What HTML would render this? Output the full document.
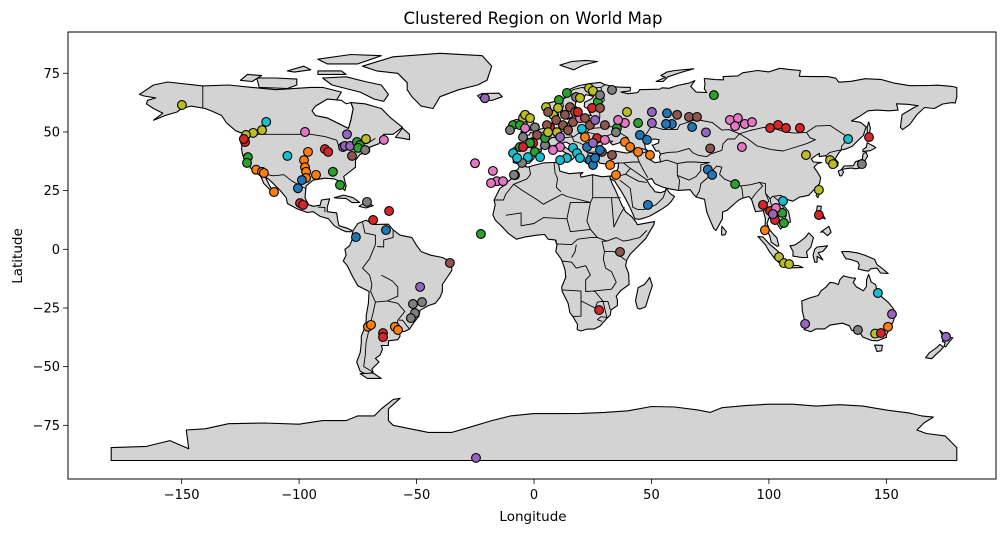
<!DOCTYPE html>
<html><head><meta charset="utf-8"><style>
html,body{margin:0;padding:0;background:#fff;}
svg{display:block;font-family:"DejaVu Sans","Liberation Sans",sans-serif;}
</style></head><body>
<svg id="chart" width="1008" height="534" viewBox="0 0 1008 534">
<text x="533" y="24" text-anchor="middle" font-size="16.5">Clustered Region on World Map</text>
<g id="land"></g>
<g id="borders"></g>
<g id="pts"></g>
<rect x="68" y="32" width="928" height="447" fill="none" stroke="#000" stroke-width="1"/>
<g id="axes"></g>
<text x="533" y="521" text-anchor="middle" font-size="13.5">Longitude</text>
<text x="22" y="256" text-anchor="middle" font-size="13.5" transform="rotate(-90 22 256)">Latitude</text>
</svg>
<script>
const xTicks=[-150,-100,-50,0,50,100,150];
const yTicks=[75,50,25,0,-25,-50,-75];
const colors=["#1f77b4","#ff7f0e","#2ca02c","#d62728","#9467bd","#8c564b","#e377c2","#7f7f7f","#bcbd22","#17becf"];
const lons=[-149.9,-114,-119.6,-115.8,-122.6,-123,-123.5,-97.5,-79.6,-81.3,-80.5,-78.3,-75.4,-74.1,-74.9,-71.5,-63.9,-71.9,-77.5,-89,-87.6,-105,-96.2,-97.9,-97.5,-97,-97,-92.8,-98.8,-100.5,-85.6,-82.6,-118.3,-115.8,-115,-121.8,-122.2,-110.7,-99.6,-98.3,-71.1,-61.7,-68.5,-75.8,-63,-35.8,-48.5,-51.5,-50.7,-52.4,-47.7,-70.7,-69.4,-64.3,-64.3,-59.2,-57.9,
-20.9,-25.1,-17.5,-15.8,-13.2,-18.3,-22.6,-8.1,36.6,27.7,48.5,-24.7,
76.6,75,73.2,74,75.8,85.6,97.5,100.5,102.6,98.3,106,105.6,106.4,103,101.7,121.3,121.3,115.8,126,127.3,139.6,133.7,142.6,104.3,106.4,108.6,175.4,146.4,152.4,150.7,145.2,147.7,137.9,115.4,88.5,100.5,103.9,107.3,113.2,
23.4,25.1,33.2,14,10.6,17.9,19.6,27.2,10.2,5.1,8.1,24.7,15.3,28.1,-4.7,-3.8,-8.9,-6,0.4,-3.8,6.8,12.3,16.6,19.6,9.8,-4.7,1.3,20.4,21.7,26.8,30.2,35.3,34.9,38.7,44.3,39.6,50.2,50.2,-0.4,-6,4.7,11.1,8.1,16.6,22.6,25.1,28.9,33.2,-8.9,-2.6,0.4,-5.1,-7.2,14,23.8,25.1,18.3,38.7,40.9,44.3,49.4,45.1,48.1,32.4,34.9,-8.5,
6,9.4,13.2,17.5,21.7,23.8,14.5,5.5,11.1,26,30.2,35.8,4.7,-1.7,-10.2,28.1,18.7,-4.7,2.6,11.1,19.6,28.1,26,6,-1.7,
56.6,58.7,56.2,60.9,66,67.3,83.4,86.8,89.8,92.8,85.6,69.4];
const lats=[61.5,54.3,49.6,50.8,48.7,45.7,47,50,49,43.6,44,44,45.7,44.4,43.2,47,46.6,42.3,39.8,42.7,41.5,39.8,41.5,38,35,33,30.4,31.7,29.5,26,33,27.4,33.9,33,32.5,39.3,36.8,24.4,19.7,18.9,20.2,16.3,12.5,5.2,8.2,-5.8,-16,-23.3,-27.2,-29.3,-22.5,-33,-32.2,-35.7,-37.4,-33,-34.4,
64.4,36.7,33.4,29,29,28.2,6.5,31.6,-1.1,-25.9,18.9,-88.9,
65.7,43,49.8,34,31.7,27.8,18.9,16.3,12.5,8.2,20.6,15.5,11.2,17.6,15,14.6,25.3,40.2,38,36.3,36.3,47,47.8,-3.3,-5.9,-6.3,-37.3,-18.6,-27.6,-33,-35.9,-35.7,-34.4,-31.8,43.6,51.7,53,51.7,51.7,
68.7,67.5,67.9,66.6,63.6,64.9,64.5,62.8,60.2,60.6,57.3,60.2,60.6,60.2,55.9,57.3,52.9,52.9,52,51.6,52,52.9,54.2,55.9,49.9,47.8,48.7,51.3,47.8,47.4,52.9,51.7,49.9,53.8,53.8,58.5,58.5,53.8,45.3,43.6,44.4,43.6,42.3,43.2,43.6,45.3,41.5,40.2,41,39.3,41.5,36.8,38.9,38.9,38,35.9,41,45.7,43.6,41.5,40.2,48.7,46.6,35.9,31.7,31.7,
58.5,55.1,57.3,58.5,55.9,52.9,50.8,52.9,47.8,55.1,46.6,55.1,47.4,45.3,50.8,65.7,58.5,43.6,39.3,38,38.9,42.3,38.9,49.9,55.9,
58,53.4,53.4,57.3,56.4,52.1,55.1,55.9,53.4,54.2,52.5,56.4];
const clusters=[8,9,8,8,8,3,3,6,4,4,4,4,2,2,2,8,6,7,5,3,3,9,1,1,1,1,1,1,0,0,2,2,1,1,1,2,2,1,3,3,7,3,3,0,0,5,4,7,7,7,7,1,1,3,3,1,1,
4,6,6,6,6,6,2,7,5,3,0,4,
2,5,4,0,0,2,3,3,3,1,9,2,2,6,4,3,8,8,8,8,7,9,3,8,8,8,4,9,4,1,8,3,7,4,6,3,3,3,3,
8,8,7,2,2,7,8,2,8,8,8,3,5,5,8,8,2,2,7,6,3,5,5,6,8,7,5,9,1,3,5,2,7,6,2,8,4,4,3,2,7,6,6,9,0,4,5,5,9,9,2,7,9,9,0,0,9,1,1,1,1,0,0,1,1,7,
5,5,5,5,5,5,5,5,4,4,6,6,2,2,7,7,3,3,9,9,9,0,0,8,8,
0,0,0,5,5,0,6,6,6,6,6,5];

const X0=534,KX=2.349,Y0=249.3,KY=2.347;
const sx=v=>X0+v*KX, sy=v=>Y0-v*KY;
const NS="http://www.w3.org/2000/svg";
function mk(tag,attrs,parent){const e=document.createElementNS(NS,tag);for(const k in attrs)e.setAttribute(k,attrs[k]);parent.appendChild(e);return e;}

const shapes={
"north-america":[[-168,66],[-162,70],[-156,71.3],[-141,69.6],[-130,70],[-120,69],[-110,68],[-95,69],[-90,69],[-82,67],[-85,62],[-94,59],[-93,57],[-88,56],[-82,53],[-79,51.5],[-78,55],[-77,60],[-78,62.5],[-72,62],[-65,60],[-61,56],[-56,52],[-60,49],[-64,49],[-66,45],[-70,43.5],[-70,41.5],[-74,40.5],[-76,38],[-76,35],[-81,31],[-80,27],[-80.5,25],[-82,26.5],[-83,29],[-85,30],[-89,30.3],[-94,29.5],[-97,27],[-97.5,22],[-96,19],[-94,18.3],[-91,18.8],[-90.5,21],[-87,21.5],[-88,18],[-88,16],[-84,15.5],[-83.5,12],[-83,10],[-79.5,9],[-77.5,8],[-78,7.5],[-80,7.5],[-82,8.3],[-85,10],[-87.5,13],[-91,14],[-94,16],[-96.5,15.7],[-101,17.3],[-105,19.5],[-105.5,22],[-108,25],[-112,29],[-114.5,31],[-112.5,27],[-110,23],[-111,24],[-115,28],[-117,32.5],[-120.5,34.5],[-122.5,37.5],[-124,40],[-124.5,43],[-124,46],[-124.7,48.4],[-123,49],[-127,50.5],[-131,54],[-133,57],[-137,58.8],[-140,60],[-146,61],[-150,60],[-152,58.5],[-157,57],[-162,55],[-158,58],[-162,60],[-165,62],[-164.5,63.5],[-161,64.5],[-166,65.3]],
"greenland":[[-73,78],[-60,82],[-40,83.5],[-22,82.5],[-18,78],[-20,72],[-24,70],[-32,68],[-40,65],[-43,60],[-48,61],[-52,65],[-54,68],[-54,71],[-58,75],[-67,76]],
"baffin":[[-62,66],[-65,70],[-72,71.5],[-80,73.5],[-90,73],[-86,70],[-82,69],[-74,67],[-68,64],[-64,63]],
"victoria-island":[[-118,73],[-117,69],[-105,68.5],[-101,70],[-101,72.5],[-110,73]],
"ellesmere":[[-78,83],[-65,82.5],[-75,79],[-88,79],[-92,81]],
"banks-island":[[-125,72],[-120,71.5],[-116,74],[-122,74.5]],
"devon-island":[[-92,74.5],[-80,74.5],[-82,76],[-92,76]],
"arctic-island":[[-105,76],[-98,78],[-95,76.5],[-102,75.5]],
"cuba":[[-85,22],[-81,23.1],[-77,22],[-74.2,20],[-77.5,19.9],[-80,21.7],[-84,21.8]],
"hispaniola":[[-74.5,18.3],[-72,20],[-68.4,18.6],[-71.5,17.6]],
"newfoundland":[[-59,47.7],[-56,51.6],[-53,49],[-53,46.7],[-56,47.3]],
"iceland":[[-24,65.5],[-22,66.4],[-15,66.5],[-13.5,65],[-18,63.4],[-22.5,63.8]],
"south-america":[[-77,8],[-75,11],[-71.5,12.4],[-68,10.6],[-62,10.7],[-60,8.3],[-57,6],[-52,5],[-50,1.7],[-48,-1],[-44,-2.5],[-39,-3.5],[-35,-5.5],[-35,-9],[-37,-12],[-39,-15],[-39,-18],[-40,-20.5],[-42,-23],[-45,-24],[-48.5,-26],[-49,-28.5],[-51,-31],[-53,-34],[-55,-35],[-57.5,-35],[-57,-37],[-58,-38.5],[-62,-39],[-62,-41],[-65,-41],[-64.5,-42.5],[-65.5,-45],[-67.5,-46.5],[-66,-48],[-69,-51],[-68.5,-52.3],[-71,-53.5],[-74,-52],[-75.5,-48],[-74,-44],[-73.5,-40],[-73.5,-37],[-71.5,-32],[-71.4,-28],[-70.5,-23],[-70.2,-18],[-75,-15.5],[-77,-12],[-79.5,-7],[-81.2,-5],[-80,-2.5],[-80.5,0],[-78.5,1.5],[-77.5,4],[-77.3,7]],
"tierra-del-fuego":[[-68.5,-52.7],[-65,-55],[-71,-55],[-74,-53]],
"africa":[[-17,21],[-16.5,19],[-17.5,14.7],[-16.5,12.5],[-15,11],[-13,9],[-11,6.8],[-7.5,4.3],[-4,5.2],[1,6],[4.5,6.3],[6,4.3],[9,4],[9.8,2],[9.3,-1],[11.5,-4],[12.3,-6],[13.3,-9],[13.5,-12],[11.8,-16],[12,-18],[14.5,-23],[15.3,-27],[16.5,-28.6],[18.5,-32],[18.4,-34.2],[20,-34.8],[22.5,-34],[25.5,-34],[28,-32.8],[30.5,-30],[32.5,-28],[32.8,-25.8],[35.5,-24],[35.5,-21.5],[35,-20],[37,-17.5],[40.5,-15],[40.3,-10.5],[39,-7],[39.5,-4.5],[41,-2],[43.5,0.5],[47.5,4.5],[51,10.5],[51.3,11.8],[44,10.5],[43.3,11.8],[41.5,14],[39,16],[37.3,19],[36,22],[35,24.5],[33.5,27.5],[32.5,30],[32.3,31.2],[29,30.9],[25,31.8],[20,30.7],[19.7,31.8],[20.8,32.7],[15,32.2],[11,33.3],[10.5,36],[11,37],[8,37],[4,36.8],[-1,35.5],[-2.5,35],[-5.9,35.8],[-6.9,34],[-9.5,32.5],[-9.7,30],[-12,28],[-13,27],[-14.5,26]],
"madagascar":[[44,-25],[43.2,-22],[44.3,-16.3],[47,-15],[49.3,-12],[50.4,-15.5],[49.5,-18],[47.5,-24.5],[45,-25.5]],
"eurasia":[[-9,43],[-8.8,37],[-6,36.2],[-2,36.7],[0,38.7],[0.3,40.3],[3.2,41.9],[3,43.3],[6.5,43.1],[9,44.4],[10.2,43.9],[12.3,41.7],[15.7,40],[16,38],[17,39],[18.5,40.2],[16,41.5],[12.4,44.2],[12.3,45.3],[13.6,45.7],[15,45],[17,43],[19.5,42],[19.5,40],[21,38],[22.5,36.5],[23,38],[22.9,40.5],[24,40.8],[26,40.8],[26.3,40],[26.2,39],[27.3,37.5],[28,36.7],[30.5,36.4],[32.5,36.1],[36,36.8],[35.8,34.6],[35,33],[34.3,31.3],[32.3,31.2],[32.5,30],[34.5,29],[35,28],[37,25],[39,21.5],[41,17.5],[43,13],[45,12.8],[49,14],[52,15.7],[55,17.5],[57,18.9],[58.5,20.5],[59.8,22.5],[58,23.7],[56.3,26],[56,24.9],[54,24.1],[51.5,24.5],[50.5,26],[49.5,27],[48,29.5],[50.1,30.2],[51.5,27.9],[54.8,26.5],[57.3,25.8],[61.5,25.1],[66.5,25.4],[67.5,23.9],[69,22.3],[72.6,21.3],[73.5,16],[74.8,12.8],[76.5,8.9],[77.5,8],[80.2,13],[80.3,15.9],[82.2,16.6],[86.9,20.8],[88.5,21.7],[91.5,22.5],[92.6,21.3],[94.3,16],[97.6,16.5],[98.5,13],[98.3,8.4],[100.3,6],[101,3],[103.5,1.3],[104.2,1.5],[103.4,4.9],[102.1,6.2],[100.3,8.3],[99.2,11],[100,13.4],[102.6,12.2],[105,8.6],[106.7,10.4],[109.2,11.7],[108.4,16],[106,19],[107.4,21.3],[110.2,20.5],[113,22.2],[117,23],[119.6,25.8],[121.6,28],[122,30.5],[121,32.4],[119.2,35],[120.6,36.5],[122.5,37],[119,37.2],[118,38.5],[118.8,39.2],[121.5,40.9],[121.4,39.5],[124.2,39.9],[125.3,37.7],[126.7,37],[126.5,34.5],[129.3,35.5],[129.5,37],[128.2,38.5],[129.7,41],[130.8,42.3],[133,42.8],[135.5,43.9],[138.2,46.6],[140.2,48.5],[141.4,52.2],[139,54.1],[135.2,54.7],[138.2,56.4],[142.2,59],[146,59.3],[151,59],[155,59.3],[154.3,62],[159,61.8],[163.5,61.2],[161.8,60.4],[156.7,57.4],[156,52],[156.9,51],[160,53.2],[162.1,56.1],[163.2,57.6],[166.3,60.4],[170.4,60],[174,61.9],[178,62.5],[179.3,62.3],[180,64.9],[180,68.9],[178,69.4],[172,69.9],[168,69.8],[160,69.7],[153,70.9],[148,72.3],[141,72.7],[135,71.6],[129.7,71.2],[128.5,72.9],[125,73.6],[118,73.6],[113,73.7],[113.4,76.2],[108,76.7],[104.7,77.1],[100,75.6],[95,76.2],[88.8,75.2],[86.8,73.9],[80.5,73.6],[80.7,72.2],[77,72.3],[72.5,72.8],[72.8,70.4],[72.5,68.4],[73.5,66.8],[69,67],[66.7,69.4],[68.5,71.9],[66,70.8],[61,69.8],[57.5,68.6],[54.5,68.8],[53.5,68.2],[45,68],[44.2,66.8],[42,66.5],[40,66.3],[37,67],[41,67.5],[41,69],[36,69.1],[33.8,69.3],[30,70.2],[28.2,71.1],[24,70.6],[19.2,69.8],[15.4,68.3],[14,65],[10.5,63.5],[5,62],[5,59],[6,58],[8.5,58.3],[10.4,59.5],[11,58.9],[11.8,57.4],[12.8,55.9],[14.3,55.4],[16.4,56.6],[16.9,58.7],[18.8,60.1],[17.5,61],[17.8,62.7],[21.5,65],[22,65.9],[25.4,65.1],[24.6,64.2],[21.5,62.6],[21.4,60.7],[23,59.8],[26,60.4],[29,60],[26,59.4],[23.4,59.2],[23.5,58.6],[24.4,57],[21.6,57.4],[21,56],[21.2,55.2],[19.6,54.4],[18.7,54.4],[14.1,53.8],[12.5,54.5],[11,54],[10.9,54.9],[9.9,55.6],[10.6,57.7],[8.5,57],[8.1,55.6],[8.9,54],[7,53.4],[5,53],[4,51.5],[1.6,50.9],[0,49.5],[-1.6,49.8],[-1.9,48.7],[-4.6,48.7],[-4.5,47.9],[-2,47],[-1.2,46],[-1.4,44],[-1.9,43.4],[-4.3,43.4],[-8,43.7]],
"great-britain":[[-5.7,50],[-3,50.5],[1.4,51.3],[1.7,52.7],[0,53.5],[-0.3,54.5],[-2,55.8],[-2,57.5],[-3.2,58.6],[-5,58.6],[-6,57.4],[-5.7,56],[-4.8,54.8],[-3,54],[-3,53.4],[-4.7,52.8],[-5.2,51.7],[-3.5,51.4]],
"ireland":[[-6,52],[-6,53.8],[-5.6,55.3],[-8,55.2],[-10,54],[-10,51.8]],
"honshu":[[130.9,34],[133,34.4],[135.2,34.6],[136.8,34.3],[139,34.7],[140.5,35.3],[141,38],[142,39.7],[141.4,41.4],[140,40.5],[139.8,38.3],[136.8,37.3],[136,35.6],[132,35.5]],
"kyushu":[[129.5,33.3],[131,34],[131.8,33],[131,31.3],[130.2,31.3]],
"hokkaido":[[140,41.5],[141.1,41.8],[143.2,42],[145.5,43.3],[144.5,44],[141.8,45.4],[141.5,43.5],[140,42.5]],
"sakhalin":[[142,46],[143.5,46.5],[142.7,49],[143.2,51.6],[142.5,54.3],[141.8,52]],
"sri-lanka":[[79.8,6.8],[80,9.8],[81.9,7.5],[81.3,6.2],[80,6]],
"taiwan":[[120.1,23],[121,25.2],[122,25],[120.8,22]],
"luzon":[[120,14],[120.6,18.5],[122.3,18.3],[122,16],[124,13],[121.5,13.8]],
"mindanao":[[122,7.3],[125.5,9.8],[126.5,7.3],[125,5.8],[123,7.5]],
"borneo":[[109,1.5],[110.3,-1],[110.2,-2.9],[114,-3.5],[116.5,-3.5],[116,-1],[117.8,0.8],[119,5],[117,7],[115.4,5],[113,3.1],[111,1.8]],
"sumatra":[[95.3,5.5],[97.5,5.2],[100.5,2],[104,-1],[106,-3],[105.8,-5.8],[104.5,-5.9],[102.5,-4],[100.2,-1],[98.6,1.8]],
"java":[[105.5,-6.8],[108.6,-6.8],[112.6,-6.9],[114.5,-7.8],[108.5,-7.9],[106.5,-7.4]],
"sulawesi":[[119.5,-5.5],[120.5,-5.5],[120.5,-3],[123,-4.5],[121,-1.5],[123,-0.9],[125,1.5],[120.5,1],[119.5,0],[118.8,-2.5]],
"new-guinea":[[131,-1],[134,-1],[138,-1.6],[141,-2.6],[145,-4.3],[146,-6.5],[148,-8],[150.8,-10.3],[147.5,-10.1],[146,-8],[143.3,-8.3],[142.5,-9.3],[141,-9.1],[138,-8.4],[138.5,-6.7],[137.9,-5.4],[135,-4.4],[132.8,-4],[132,-2.8]],
"australia":[[114,-22],[114.2,-26.3],[115,-29.5],[115.7,-33.2],[115,-34.2],[117.9,-35.1],[120,-33.9],[123.7,-33.9],[126,-32.3],[131.3,-31.5],[134.3,-32.6],[135.2,-34.5],[137.7,-35],[138.1,-34.3],[138.4,-35.1],[140,-37.4],[143.6,-38.8],[146.3,-39],[150,-37.5],[150,-36.4],[151.8,-33],[153.1,-30.4],[153.6,-28],[153,-25.3],[150.8,-22.6],[149.3,-21.3],[146.4,-18.9],[145.4,-15],[143.6,-14],[142.5,-10.7],[141.6,-12.9],[141.5,-15.9],[140.2,-17.7],[137.3,-16],[135.9,-14.2],[136.9,-12.3],[135.3,-12.2],[132.6,-11.6],[131.8,-11.3],[130.2,-13],[129.6,-15],[127.8,-14.3],[126,-14.1],[124.4,-16],[122.2,-17.7],[121,-19.7],[117.4,-20.7],[114.6,-21.8]],
"tasmania":[[145,-40.8],[148.3,-40.9],[148,-43.2],[146,-43.6]],
"new-zealand-north":[[172.7,-34.5],[174.5,-36],[175.9,-37.5],[178.3,-37.7],[177,-39.2],[175.2,-41.6],[174.6,-41.2],[175,-39.9],[173.8,-39.2],[174.6,-38]],
"new-zealand-south":[[172.8,-40.5],[174.3,-41.7],[172.7,-43.4],[171,-44.9],[169.3,-46.6],[166.7,-46.2],[168.3,-44.1],[171.5,-41.8]],
"novaya-zemlya":[[52,71.5],[56,73.3],[54,74],[56.5,75.5],[60,76.2],[68,76.9],[63,75.5],[57,73.5],[55,71.5]],
"svalbard":[[11,78.5],[16,80],[22,80.5],[27,80],[21,78.5],[17,76.5]],
"antarctica":[[-180,-90],[-180,-84.5],[-165,-84],[-155,-81.5],[-147,-85],[-148,-77],[-140,-76.5],[-130,-74.3],[-115,-74],[-100,-74.5],[-90,-73],[-80,-73],[-75,-71],[-68,-71],[-65,-68],[-60,-64],[-57,-63.5],[-62,-68],[-62,-73],[-60,-75],[-45,-78],[-35,-78],[-28,-76],[-18,-73],[-10,-71],[0,-70],[10,-70],[20,-69.9],[30,-69.5],[40,-68.8],[50,-67],[60,-67.2],[70,-68.5],[75,-69.5],[80,-67.5],[90,-66.6],[100,-66],[110,-66],[120,-66.8],[130,-66.2],[140,-66.8],[150,-68.5],[160,-69.8],[165,-71],[170,-71.5],[166,-74],[163,-77],[167,-78.5],[175,-79.5],[180,-84.5],[180,-90]]
};
const water={
"black-sea":[[27.5,42],[28,43.6],[29.7,45.3],[30.7,46.5],[33.3,46],[32.5,45.4],[33.5,44.5],[35.5,45.1],[36.5,45.4],[38.2,47.1],[39.1,47.1],[38,45.9],[37.5,44.7],[39.9,43.4],[41.5,41.5],[39.5,41],[36,41.6],[34.6,41.9],[31,41.1],[29,41.1]],
"caspian-sea":[[47,45.5],[49,46.7],[51.5,47],[53.2,46.7],[53,45.3],[51,44.5],[50.3,44.4],[52,41.8],[53,42],[53.9,40.6],[53.4,39.4],[53.9,37.3],[51.5,36.9],[49,38.4],[49.5,40.2],[48.8,41.6],[47.4,43]],
"hudson-bay":[[-94.5,59],[-93,61],[-88,64],[-82,63.5],[-80,62],[-78,62.5],[-77,60],[-78,55],[-79,51.5],[-82,53],[-88,56],[-93,57]]
};
const borderLines=[
[[-123,49],[-95,49],[-89,48],[-84,46.5],[-82.5,42],[-79,43],[-75,45],[-71,45],[-67.5,47.3]],
[[-141,60],[-141,69.6]],
[[-117,32.5],[-111,31.3],[-106.5,31.8],[-103,29],[-97.2,25.9]],
[[-92,18],[-89,17.8],[-89,15.8]],
[[-73,11.5],[-72,7],[-67.5,6],[-67.5,2],[-70,-4],[-73,-8],[-70,-11],[-69,-15]],
[[-60,8.3],[-60,5],[-64,4],[-64,1],[-66.8,1.2]],
[[-69,-15],[-69.5,-18],[-67.5,-22.5],[-62.5,-22],[-58,-20],[-58,-16],[-60.3,-13.5],[-65,-11]],
[[-67.5,-22.5],[-68.5,-27],[-70,-33],[-71.5,-40],[-71.8,-45],[-72.5,-50],[-68.6,-52.3]],
[[-62.5,-22],[-58,-23],[-55,-26.5],[-58,-30.2],[-58.4,-34]],
[[-53,-34],[-56,-30.2],[-57.5,-30.2]],
[[-8.7,27.7],[-4.8,25],[1.5,21],[4,19.2],[12,23.5],[14,22.5],[24,20],[25,22],[25,31.8]],
[[-8.7,27.7],[-3,30],[-1.5,32],[-2,35]],
[[8.5,37],[9,32.5],[10,30.2],[9.5,26.4],[11.5,24.5]],
[[25,22],[36.9,22]],
[[-17,21],[-13,21],[-12,23.5],[-8.7,27.7]],
[[-12,14.5],[-5.5,15.5],[-5.5,10],[0,11],[4,13.5],[14,13],[15.5,7.5],[24,8.5],[27,5],[31,3.5],[35,5],[38,3.5],[41,4],[42,4.3],[45,5],[48,8]],
[[14,13],[15.5,20],[24,20]],
[[24,8.5],[22.5,12],[24,20]],
[[33,22],[34,9.5],[36.5,14.5],[38.5,18]],
[[9.4,4],[9.5,2.2],[11.3,2.2],[16,2],[18.6,4.3],[24,5],[27,5]],
[[12,-5],[16,-5.5],[18,-8],[22,-7],[24,-11],[22,-13],[22,-18],[25,-17.8],[33,-17],[35,-14],[33,-9.5],[30.5,-8],[29.5,-4],[30,-1],[31.5,-1],[34,-1],[37.5,-3.5],[39,-4.7]],
[[18,2],[17.5,-1],[16,-3.5]],
[[12,-17.3],[20,-17.8],[20,-22],[20,-24.7],[20,-28.5],[16.5,-28.6]],
[[20,-22],[26,-25],[27,-22.5],[29,-22.2],[31.5,-22.3],[32.5,-25.8]],
[[29.4,-22.2],[26,-18],[25,-17.8]],
[[30,-1],[29,3.4],[31,3.5]],
[[-2,47],[2,49],[6,51],[6,53.5]],
[[-1.8,43.3],[3,42.5]],
[[-7,42],[-7.5,38],[-7.3,37.2]],
[[6,49],[7.5,47.6],[10,47.5],[13,47.5],[17,48],[19,49.5],[23,48],[22.5,50],[24,51.5],[23.5,54],[19.6,54.4]],
[[14,54],[15,51],[14,50],[12.5,50.5],[12,50.3],[10,48],[7.6,47.6],[6.1,46.3],[7,44]],
[[23.5,54],[26.5,55.8],[28,56],[28,57.5],[27.8,59.4]],
[[22.5,50],[30,48],[36,50],[40,47.5],[38.2,47.1]],
[[30,48],[28.2,45.5],[22,44],[19,45.5],[17,46],[16,48.6],[13.8,48.8]],
[[22,44],[22.5,41.2],[26,41.5],[28,42]],
[[24,51.5],[31,52],[32,52.3],[35,52],[36,50]],
[[41.5,41.5],[46,41],[48.6,41.8],[46,43],[43,42.9],[40,43.4]],
[[36,36.8],[38,36.8],[42,37.2],[44.8,37.2],[44,39.4],[44,41]],
[[36,36.8],[35.8,34.6]],
[[38,36.8],[41,34.5],[39,32],[37,31.5],[35,30]],
[[41,34.5],[47.5,30],[48,29.5]],
[[39,32],[44.5,29],[48,28.5]],
[[36.5,29.5],[41,26],[42,18],[44,17],[47,17],[52,19],[55,22],[56,24.9]],
[[44.8,37.2],[47,33],[48.5,30.5]],
[[53.9,37.3],[56.5,38],[61,36.5],[61,31.5],[62,29.4],[61.5,25.1]],
[[53.9,40.6],[57,41.3],[61,41.5],[66,43],[67.5,41.2],[70,40],[73.5,39.5],[75,40.5],[80,42.2]],
[[61,36.5],[65,37.2],[68.3,37.2],[71.5,37],[74.8,37]],
[[61,31.5],[66,29.5],[69,31],[71,33.5],[71,36],[74.8,37]],
[[69,22.3],[70.5,25],[71,28],[74.5,31],[75,32.5],[77.8,35.5],[80,35],[79,32],[81,30],[88,27],[92,27.5],[96,28.5],[97.3,27],[94.5,24],[92.3,21]],
[[88,27],[88.5,26],[89,22]],
[[96,28.5],[98.5,28],[98.5,24],[100.5,21.5],[101.5,22.5],[105,23],[107.4,21.3]],
[[98.5,24],[100,20.5],[97.7,18],[98.5,16]],
[[100.5,21.5],[101,19],[102,18],[104.6,17.5],[105.5,14.5],[102.5,14],[102.6,12.2]],
[[105.5,14.5],[107.5,14.5],[106,11]],
[[104.6,17.5],[106.5,17],[105,20],[102,22.4]],
[[50,52.5],[55,51],[61,51],[62,53],[69,55.3],[76,54],[80,50.8],[83,51],[87.5,49.2]],
[[47,45.5],[47,48],[50,52.5]],
[[80,42.2],[80.5,45],[82.5,47],[85.5,47],[87.5,49.2]],
[[87.5,49.2],[92,50.6],[98,52],[102,51.5],[107,50],[111,49.5],[116,49.8],[120,52.5],[126,52.8],[133,48.2],[135,48.5],[131,44],[130.8,42.3]],
[[87.5,49.2],[91,47],[95,44],[101,42.5],[106,41.9],[111.5,43.6],[116,45],[119.8,46.7],[117.5,47.5],[116,49.8]],
[[124.2,39.9],[126,41.3],[129,42],[130.8,42.3]],
[[126.1,37.7],[128.2,38.5]],
[[27.8,59.4],[28.3,62],[30,63.5],[29,67],[28.5,69],[30.3,70.1]],
[[20.5,69],[23,68.5],[25,68.8],[28.5,69]],
[[12,58.9],[12.5,61.2],[12,63.5],[14,65],[16.5,68],[20.5,69]],
[[23.6,65.8],[22.5,68.5],[20.5,69]],
[[29.4,-22.2],[31,-29],[28.5,-28.7],[27,-30],[29,-30.7]]
];

const land=document.getElementById('land');
function ptsStr(arr){return arr.map(p=>sx(p[0]).toFixed(1)+','+sy(p[1]).toFixed(1)).join(' ');}
for(const k in shapes){
  const p=mk('polygon',{points:ptsStr(shapes[k]),fill:'#d3d3d3',stroke:'#000','stroke-width':1.1,'stroke-linejoin':'round'},land);
  
  
}
for(const k in water){
  const p=mk('polygon',{points:ptsStr(water[k]),fill:'#fff',stroke:'#000','stroke-width':1.1},land);
  
  
}
const bg=document.getElementById('borders');
borderLines.forEach((b,i)=>{
  const l=mk('polyline',{points:ptsStr(b),fill:'none',stroke:'#000','stroke-width':0.9,'stroke-linejoin':'round'},bg);
  
  
});

const pg=document.getElementById('pts');
for(let i=0;i<lons.length;i++){
  const c=mk('circle',{cx:sx(lons[i]).toFixed(1),cy:sy(lats[i]).toFixed(1),r:4.4,fill:colors[clusters[i]%10],stroke:'#000','stroke-width':1.1},pg);
  
  
}

const ax=document.getElementById('axes');
xTicks.forEach(t=>{
  const x=sx(t);
  const l=mk('line',{x1:x,x2:x,y1:479,y2:484,stroke:'#000','stroke-width':0.8},ax);
  
  
  const tx=mk('text',{x:x,y:499,'text-anchor':'middle','font-size':13},ax);
  tx.textContent=(t<0?'\u2212'+Math.abs(t):String(t));
  
  
});
yTicks.forEach(t=>{
  const y=sy(t);
  const l=mk('line',{x1:63,x2:68,y1:y,y2:y,stroke:'#000','stroke-width':0.8},ax);
  
  
  const tx=mk('text',{x:60,y:y+4.5,'text-anchor':'end','font-size':13},ax);
  tx.textContent=(t<0?'\u2212'+Math.abs(t):String(t));
  
  
});
</script>
</body></html>
